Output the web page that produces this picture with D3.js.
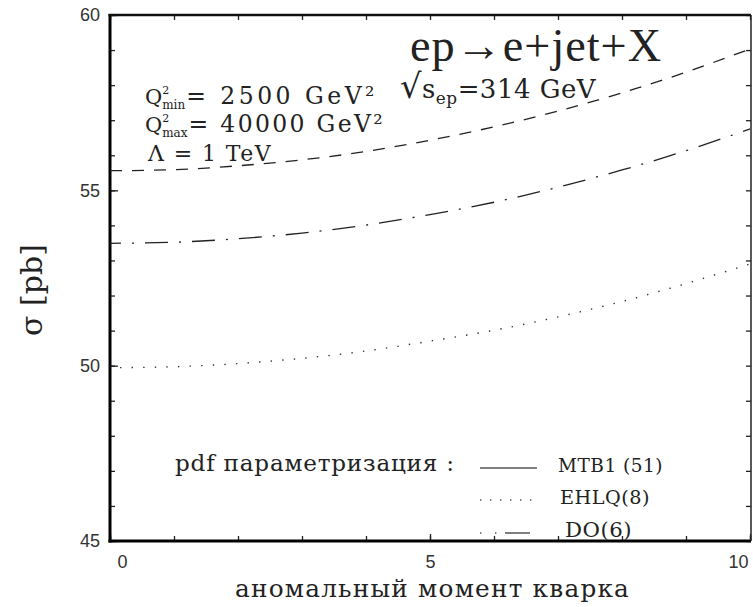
<!DOCTYPE html>
<html><head><meta charset="utf-8">
<script src="https://cdn.jsdelivr.net/npm/d3@7"></script>
<style>body{margin:0;background:#fff}</style>
</head><body>
<svg id="c" width="753" height="607"></svg>
<script>
// ---- data ----
const xValues = [0,1,2,3,4,5,6,7,8,9,10];
const dashedValues  = [55.56,55.59,55.70,55.87,56.11,56.43,56.81,57.26,57.78,58.37,59.03];
const dashDotValues = [53.49,53.52,53.62,53.78,54.01,54.31,54.66,55.09,55.58,56.13,56.75];
const dottedValues  = [49.94,49.97,50.06,50.21,50.42,50.70,51.01,51.39,51.83,52.34,52.90];
const xTickLabels = [0,5,10];
const xMinorTicks = [0,1,2,3,4,5,6,7,8,9,10];
const yTickLabels = [45,50,55,60];
const yMinorTicks = d3.range(45,61,1);
const legendLabels = ["MTB1 (51)","EHLQ(8)","DO(6)"];
const legendStyles = ["solid","dotted","dashdot"];

const svg = d3.select("#c");
const x = d3.scaleLinear().domain([0,10]).range([110,750]);
const y = d3.scaleLinear().domain([45,60]).range([541,15]);
const serif = "DejaVu Serif";
const lightSerif = "Liberation Serif";
const sans = "Liberation Sans";

// fit a text to a target width: font size scaled, small fixed letter spacing
function fit(sel, target, ls){
  sel.attr("letter-spacing", ls);
  for(let k=0;k<3;k++){
    const w = sel.node().getComputedTextLength();
    const fs = parseFloat(sel.attr("font-size"));
    sel.attr("font-size", fs*target/w);
  }
  return sel;
}
// fit a text to a target width by letter spacing only
function fitLS(sel, target){
  sel.attr("letter-spacing", 0);
  const w = sel.node().getComputedTextLength();
  const n = sel.text().length;
  sel.attr("letter-spacing", Math.max(0,(target-w)/n));
  return sel;
}

// axes (ticks inside)
function styleAxis(g){ g.select(".domain").remove(); g.selectAll(".tick line").attr("stroke","#222").attr("stroke-width",1.3); }
svg.append("g").attr("transform","translate(110,0)")
  .call(d3.axisLeft(y).tickValues(yMinorTicks).tickSize(-5).tickFormat(""))
  .call(styleAxis);
svg.append("g").attr("transform","translate(110,0)")
  .call(d3.axisLeft(y).tickValues(yTickLabels).tickSize(-8).tickPadding(10).tickFormat(d3.format("d")))
  .call(styleAxis)
  .call(g=>g.selectAll("text").attr("font-family",sans).attr("font-size",18).attr("fill","#333"));
svg.append("g").attr("transform","translate(751,0)")
  .call(d3.axisRight(y).tickValues(yMinorTicks).tickSize(-5).tickFormat(""))
  .call(styleAxis);
svg.append("g").attr("transform","translate(0,541)")
  .call(d3.axisBottom(x).tickValues(xMinorTicks).tickSize(-5).tickFormat(""))
  .call(styleAxis);
svg.append("g").attr("transform","translate(0,541)")
  .call(d3.axisBottom(x).tickValues(xTickLabels).tickSize(-7).tickPadding(14).tickFormat(d3.format("d")))
  .call(styleAxis)
  .call(g=>g.selectAll("text").attr("font-family",sans).attr("font-size",18).attr("fill","#333")
     .attr("dx",d=> d===0?12:(d===10?-12:0)));
svg.append("g").attr("transform","translate(0,15)")
  .call(d3.axisTop(x).tickValues(xMinorTicks).tickSize(-5).tickFormat(""))
  .call(styleAxis);

// frame
svg.append("line").attr("x1",110).attr("x2",110).attr("y1",14).attr("y2",542.5).attr("stroke","#000").attr("stroke-width",3);
svg.append("line").attr("x1",108.5).attr("x2",751).attr("y1",541).attr("y2",541).attr("stroke","#000").attr("stroke-width",3);
svg.append("line").attr("x1",108.5).attr("x2",751).attr("y1",15).attr("y2",15).attr("stroke","#111").attr("stroke-width",2.5);
svg.append("line").attr("x1",751).attr("x2",751).attr("y1",15).attr("y2",541).attr("stroke","#222").attr("stroke-width",1.5);

// curves
const line = d3.line().x((d,i)=>x(xValues[i])).y(d=>y(d)).curve(d3.curveNatural);
svg.append("path").attr("d",line(dashedValues)).attr("fill","none").attr("stroke","#222").attr("stroke-width",1.3)
  .attr("stroke-dasharray","12,10");
svg.append("path").attr("d",line(dashDotValues)).attr("fill","none").attr("stroke","#222").attr("stroke-width",1.3)
  .attr("stroke-dasharray","23,11,2,11").attr("stroke-dashoffset",-35);
svg.append("path").attr("d",line(dottedValues)).attr("fill","none").attr("stroke","#333").attr("stroke-width",1.4)
  .attr("stroke-dasharray","1.4,10.2").attr("stroke-dashoffset",-10);

// annotations
fit(svg.append("text").attr("x",410).attr("y",61).attr("font-family",lightSerif).attr("font-size",32)
  .attr("fill","#222").text("ep→e+jet+X"), 252, 1);
const sq = svg.append("text").attr("x",400).attr("y",98).attr("font-family",serif).attr("font-size",22)
  .attr("fill","#222");
sq.append("tspan").attr("font-size","1.3em").text("√");
sq.append("tspan").text("s");
sq.append("tspan").attr("font-size","0.65em").attr("dy","0.35em").text("ep");
sq.append("tspan").attr("dy","-0.23em").text("=314 GeV");
fit(sq, 196, 0.5);

function qLine(yb, sub, rest, target){
  const t = svg.append("text").attr("x",145).attr("y",yb).attr("font-family",serif).attr("font-size",21).attr("fill","#222");
  t.append("tspan").text("Q");
  const sup = t.append("tspan").attr("font-size",11).attr("dy",-10).text("2");
  const sb = t.append("tspan").attr("font-size",12).attr("dy",15).text(sub);
  sb.attr("dx", -sup.node().getComputedTextLength());
  const wq = t.node().getComputedTextLength() - sup.node().getComputedTextLength();
  const r = svg.append("text").attr("x",145+wq+1).attr("y",yb).attr("font-family",serif).attr("font-size",23.5)
    .attr("fill","#222").text(rest);
  fitLS(r, target-wq-1);
}
qLine(104,"min","= 2500 GeV²",233);
qLine(132,"max","= 40000 GeV²",240);
fitLS(svg.append("text").attr("x",148).attr("y",161).attr("font-family",serif).attr("font-size",22).attr("fill","#222")
  .text("Λ = 1 TeV"), 124);

// legend
fit(svg.append("text").attr("x",175).attr("y",471).attr("font-family",serif).attr("font-size",19).attr("fill","#222")
  .text("pdf параметризация :"), 280, 0.8);
const legY = [468,500,533];
legendLabels.forEach((lab,i)=>{
  const ln = svg.append("line").attr("x1",480).attr("x2",537).attr("y1",legY[i]).attr("y2",legY[i])
    .attr("stroke","#555").attr("stroke-width",1.3);
  if(legendStyles[i]==="dotted") ln.attr("stroke-dasharray","1.4,8.6");
  if(legendStyles[i]==="dashdot") ln.attr("stroke-dasharray","1.4,13.6,1.4,8.6,25,8.6,1.4,20");
  fit(svg.append("text").attr("x",[558,560,565][i]).attr("y",legY[i]+4).attr("font-family",serif).attr("font-size",18)
    .attr("fill","#222").text(lab), [105,90,67][i], 0.5);
});

// axis titles
svg.append("text").attr("transform","translate(42,290) rotate(-90)").attr("text-anchor","middle")
  .attr("font-family",serif).attr("font-size",30).attr("fill","#222").text("σ [pb]");
fit(svg.append("text").attr("x",235).attr("y",597)
  .attr("font-family",serif).attr("font-size",21).attr("fill","#222")
  .text("аномальный момент кварка"), 395, 1.2);
</script>
</body></html>
